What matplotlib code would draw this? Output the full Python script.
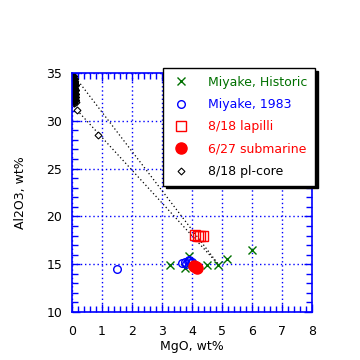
# MgO vs Al2O3 for Miyake samples, with pl-core mixing lines

import matplotlib.pyplot as plt
from matplotlib.ticker import MultipleLocator

hist_mgo = [3.27, 3.77, 3.9, 4.5, 4.87, 5.17, 6.0]
hist_al = [14.9, 14.6, 15.9, 14.9, 14.9, 15.5, 16.5]

m83_mgo = [1.5, 3.67, 3.8, 3.85, 3.9, 3.95, 3.75, 4.0]
m83_al = [14.5, 15.1, 15.0, 15.3, 15.4, 15.1, 15.2, 15.2]

lap_mgo = [4.1, 4.2, 4.28, 4.35]
lap_al = [18.1, 17.95, 17.9, 17.9]

sub_mgo = [4.05, 4.12, 4.15]
sub_al = [14.8, 14.7, 14.6]

core_mgo = [0.03, 0.05, 0.08, 0.06, 0.1, 0.04, 0.07, 0.09, 0.05, 0.08, 0.1, 0.06,
            0.04, 0.09, 0.07, 0.05, 0.1, 0.08, 0.06, 0.12, 0.08, 0.05, 0.17, 0.87]
core_al = [34.7, 34.4, 34.1, 33.9, 33.7, 33.6, 33.4, 33.2, 33.1, 32.9, 32.8, 32.7,
           32.6, 32.5, 32.4, 32.3, 32.2, 32.1, 32.0, 31.95, 31.9, 31.85, 31.1, 28.5]

# mixing lines (pl-core -> melt)
line1_mgo = [0.05, 4.9]
line1_al = [34.8, 14.9]
line2_mgo = [0.17, 4.9]
line2_al = [31.1, 14.9]

green = '#007000'
blue = '#0000ff'
red = '#ff0000'

fig = plt.figure(figsize=(3.6, 3.6), dpi=100)
ax = fig.add_axes([0.2, 0.1333, 0.6667, 0.664])

ax.plot(line1_mgo, line1_al, color='k', lw=0.9, ls=(0, (1, 2)))
ax.plot(line2_mgo, line2_al, color='k', lw=0.9, ls=(0, (1, 2)))

ax.plot(hist_mgo, hist_al, 'x', color=green, ms=6, mew=1, label='Miyake, Historic')
ax.plot(m83_mgo, m83_al, 'o', mfc='none', mec=blue, ms=5.5, mew=1, label='Miyake, 1983')
ax.plot(lap_mgo, lap_al, 's', mfc='none', mec=red, ms=7, mew=1, label='8/18 lapilli')
ax.plot(sub_mgo, sub_al, 'o', color=red, ms=8, label='6/27 submarine')
ax.plot(core_mgo, core_al, 'D', mfc='white', mec='k', ms=3.5, mew=0.8, label='8/18 pl-core')
ax.plot(core_mgo[:18], core_al[:18], 'D', color='k', ms=4.5)

ax.set_xlim(0, 8)
ax.set_ylim(10, 35)
ax.xaxis.set_major_locator(MultipleLocator(1))
ax.xaxis.set_minor_locator(MultipleLocator(0.2))
ax.yaxis.set_major_locator(MultipleLocator(5))
ax.yaxis.set_minor_locator(MultipleLocator(1))
ax.grid(True, which='major', color=blue, lw=1, ls=(0, (1, 2)))
ax.tick_params(which='both', direction='in', top=True, right=True, color=blue,
               labelsize=9, width=1)
ax.tick_params(which='major', length=6)
ax.tick_params(which='minor', length=4)
ax.tick_params(axis='x', pad=9)
ax.tick_params(axis='y', pad=7)
for s in ax.spines.values():
    s.set_color(blue)
    s.set_linewidth(1.2)

ax.set_xlabel('MgO, wt%', fontsize=9, labelpad=2)
ax.set_ylabel('Al2O3, wt%', fontsize=9, labelpad=14)

leg = fig.legend(*ax.get_legend_handles_labels(), loc='upper left',
                 bbox_to_anchor=(0.453, 0.811), borderaxespad=0, fontsize=9,
                 frameon=True, fancybox=False, edgecolor='k', framealpha=1,
                 borderpad=0.6, labelspacing=0.75, handletextpad=1.4,
                 handlelength=1.6,
                 shadow={'color': 'black', 'alpha': 1, 'ox': 2, 'oy': -2})
leg.get_frame().set_linewidth(1)
for t, c in zip(leg.get_texts(), [green, blue, red, red, 'k']):
    t.set_color(c)

fig.savefig('out.png', dpi=100)
